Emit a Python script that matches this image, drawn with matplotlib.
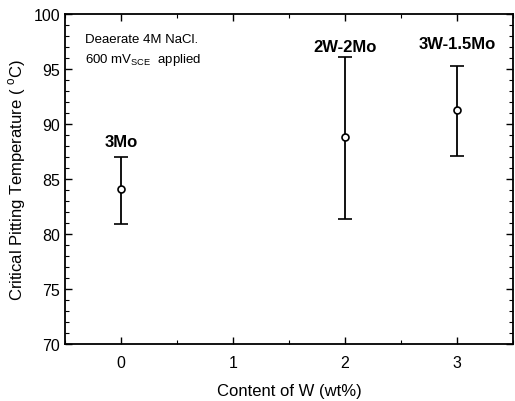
import matplotlib
matplotlib.use("Agg")
import matplotlib.pyplot as plt
from matplotlib.ticker import MultipleLocator

plt.rcParams['font.family'] = ['Liberation Sans', 'DejaVu Sans']

w_content = [0, 2, 3]
cpt = [84.1, 88.8, 91.3]
err_low = [80.9, 81.4, 87.1]
err_high = [87.0, 96.1, 95.3]
labels = ["3Mo", "2W-2Mo", "3W-1.5Mo"]
label_y = [88.4, 97.0, 97.3]

fig = plt.figure(figsize=(5.15, 4.02), dpi=100)
ax = fig.add_axes([0.126, 0.142, 0.870, 0.821])

yerr = [[c - lo for c, lo in zip(cpt, err_low)], [hi - c for c, hi in zip(cpt, err_high)]]
ax.errorbar(w_content, cpt, yerr=yerr, fmt='o', color='black', mfc='white', mec='black',
            ms=5, mew=1.2, elinewidth=1.3, capsize=5, capthick=1.3)

for x, y, t in zip(w_content, label_y, labels):
    ax.text(x, y, t, ha='center', va='center', fontsize=12, fontweight='bold')

ax.text(0.045, 0.925, "Deaerate 4M NaCl.", transform=ax.transAxes, fontsize=9.5, va='center')
ax.text(0.045, 0.862, r"600 mV$_{\mathregular{SCE}}$  applied", transform=ax.transAxes, fontsize=9.5, va='center')

ax.set_xlim(-0.5, 3.5)
ax.set_ylim(70, 100)
ax.xaxis.set_major_locator(MultipleLocator(1))
ax.xaxis.set_minor_locator(MultipleLocator(0.5))
ax.yaxis.set_major_locator(MultipleLocator(5))
ax.yaxis.set_minor_locator(MultipleLocator(1))
ax.tick_params(which='both', direction='in', top=True, right=True, labelsize=11.5)
ax.tick_params(axis='x', which='major', pad=8)
ax.tick_params(which='major', length=5, width=1)
ax.tick_params(which='minor', length=3, width=0.8)
for s in ax.spines.values():
    s.set_linewidth(1.3)

ax.set_xlabel("Content of W (wt%)", fontsize=12, labelpad=9)
ax.set_ylabel("Critical Pitting Temperature ( $^{\\mathregular{o}}$C)", fontsize=12, labelpad=4)

fig.savefig("out.png", dpi=100)
